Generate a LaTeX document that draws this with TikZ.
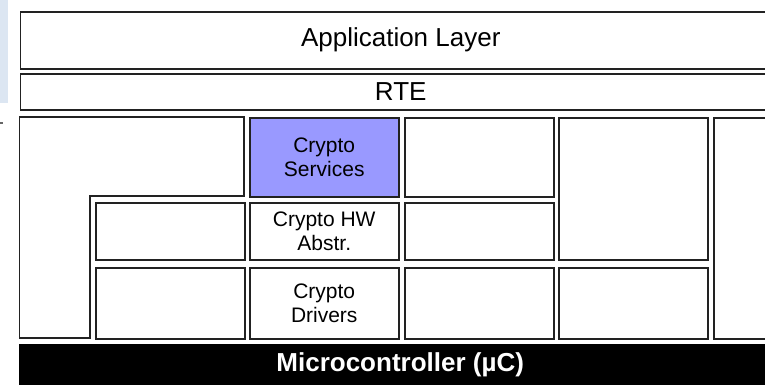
\documentclass[tikz,border=0pt]{standalone}
\usepackage{fontspec}
\setmainfont{Liberation Sans}
\definecolor{csblue}{HTML}{9999FF}
\definecolor{stripblue}{HTML}{DCE6F2}
\definecolor{boxline}{HTML}{222222}
\tikzset{
  box/.style={draw=boxline, line width=1.5pt, fill=white, anchor=north west, inner sep=0pt, align=center},
  bigtext/.style={font=\fontsize{26}{30}\selectfont},
  smalltext/.style={font=\fontsize{21}{24}\selectfont},
}
\begin{document}
\begin{tikzpicture}[x=1pt,y=-1pt]
\useasboundingbox (0,0) rectangle (765,384);
% left strip and mark
\fill[stripblue] (0,0) rectangle (8,103);
\fill[black!60] (0,122) rectangle (3,124);
% top layers
\node[box, bigtext, minimum width=761, minimum height=57] (app) at (19.5,11) {Application Layer};
\node[box, bigtext, minimum width=761, minimum height=36] (rte) at (19.5,73) {RTE};
% L shaped block
\draw[draw=boxline, line width=1.5pt, fill=white] (19.5,117) -- (244,117) -- (244,196) -- (90,196) -- (90,338) -- (19.5,338) -- cycle;
% column 2
\node[box, minimum width=149, minimum height=57] (c2b) at (95,202) {};
\node[box, minimum width=149, minimum height=71] (c2c) at (95,267) {};
% crypto column
\node[box, smalltext, fill=csblue, minimum width=149, minimum height=79] (cs) at (249,117) {Crypto\\Services};
\node[box, smalltext, minimum width=149, minimum height=57] (chw) at (249,202) {Crypto HW\\Abstr.};
\node[box, smalltext, minimum width=149, minimum height=71] (cd) at (249,267) {Crypto\\Drivers};
% column 4
\node[box, minimum width=149, minimum height=79] (c4a) at (404,117) {};
\node[box, minimum width=149, minimum height=57] (c4b) at (404,202) {};
\node[box, minimum width=149, minimum height=71] (c4c) at (404,267) {};
% column 5
\node[box, minimum width=149, minimum height=142] (c5a) at (558,117) {};
\node[box, minimum width=149, minimum height=71] (c5b) at (558,267) {};
% column 6
\node[box, minimum width=70, minimum height=221] (c6) at (713,117) {};
% microcontroller
\node[anchor=north west, fill=black, inner sep=0pt, minimum width=762, minimum height=42, text=white, font=\bfseries\fontsize{26}{30}\selectfont] (mc) at (19,344) {Microcontroller (µC)};
\end{tikzpicture}
\end{document}
